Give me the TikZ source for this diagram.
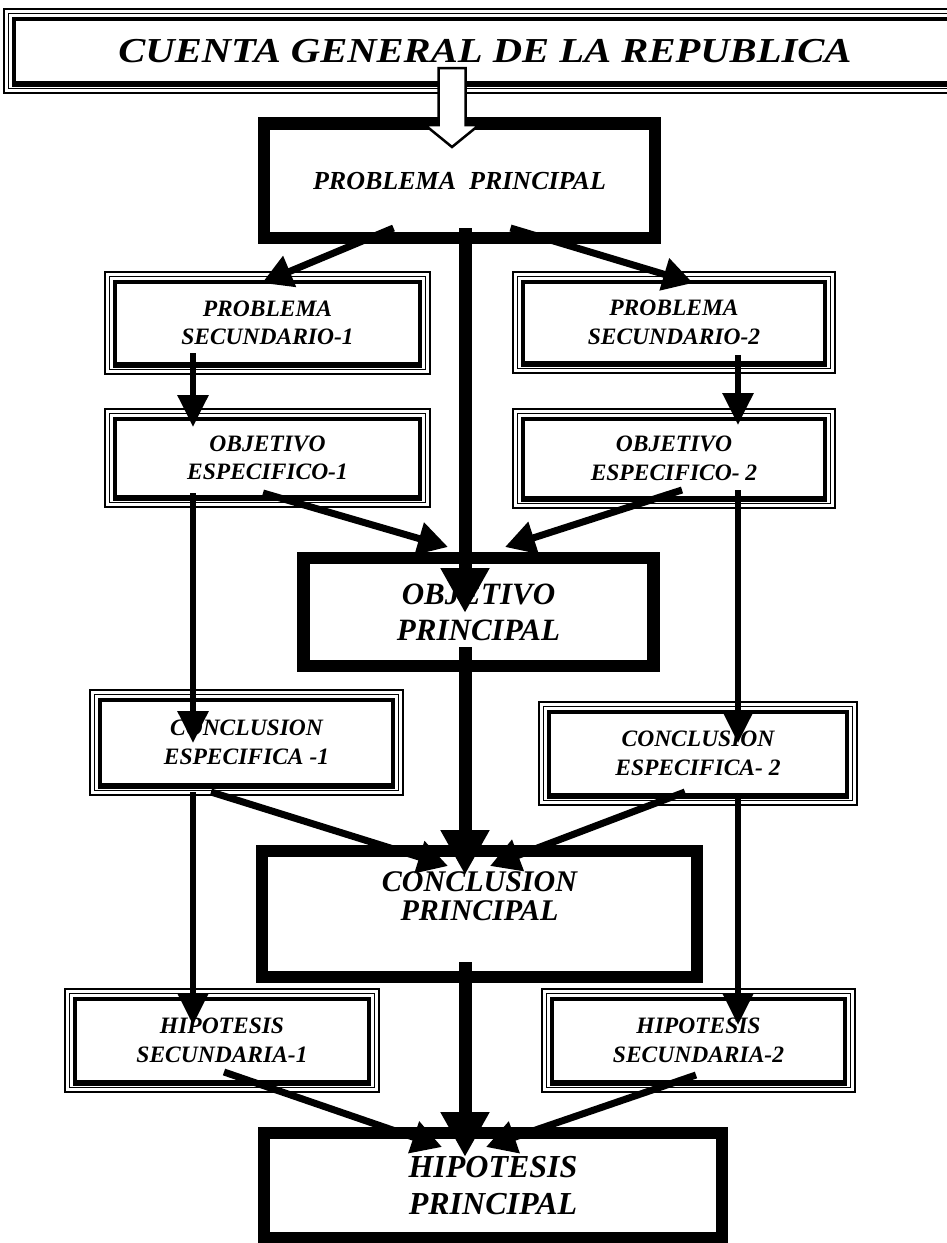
\documentclass[tikz,border=0pt]{standalone}
\usepackage{graphicx}
\usepackage{fontspec}
\setmainfont{Liberation Serif}
\usetikzlibrary{arrows.meta,calc}

\tikzset{
  mainbox/.style={draw, line width=12.5pt, rectangle, outer sep=0pt, inner sep=0pt, align=center},
  secbox/.style={draw, line width=3.5pt, rectangle, outer sep=0pt, inner sep=0pt, align=center,
    font=\fontsize{23.5}{28.5}\selectfont\bfseries\itshape},
  thinframe/.style={line width=1.3pt},
  bigarrow/.style={line width=13pt, -{Triangle[width=46pt,length=45pt]}},
  midarrow/.style={line width=7pt, -{Triangle[width=32pt,length=30pt]}},
  sidearrow/.style={line width=6pt, -{Triangle[width=30pt,length=32pt]}},
  hollowarrow/.style={line width=2.5pt, fill=white, line join=miter},
  plaintext/.style={align=center, inner sep=0pt}
}

\begin{document}
\begin{tikzpicture}[x=1pt,y=-1pt]
\useasboundingbox (0,0) rectangle (947,1243);
\fill[white] (0,0) rectangle (947,1243);

% ---------- boxes ----------
\node[secbox, minimum width=942pt, minimum height=64pt,
      font=\fontsize{35}{42}\selectfont\bfseries\itshape] (title) at (485,51)
      {\scalebox{1.16}[1]{CUENTA GENERAL DE LA REPUBLICA}};

\node[mainbox, minimum width=391pt, minimum height=114.5pt,
      font=\fontsize{26}{31}\selectfont\bfseries\itshape] (pp) at (459.5,180.75)
      {PROBLEMA\ \ PRINCIPAL};

\node[secbox, minimum width=305pt, minimum height=82pt] (ps1) at (267.5,323) {PROBLEMA\\SECUNDARIO-1};
\node[secbox, minimum width=302pt, minimum height=81pt] (ps2) at (674,322.5) {PROBLEMA\\SECUNDARIO-2};
\node[secbox, minimum width=305pt, minimum height=78pt] (oe1) at (267.5,458) {OBJETIVO\\ESPECIFICO-1};
\node[secbox, minimum width=302pt, minimum height=79pt] (oe2) at (674,458.5) {OBJETIVO\\ESPECIFICO- 2};

\node[mainbox, minimum width=350pt, minimum height=108pt,
      font=\fontsize{31}{36}\selectfont\bfseries\itshape] (op) at (478.5,612)
      {OBJETIVO\\PRINCIPAL};

\node[secbox, minimum width=293pt, minimum height=85pt] (ce1) at (246.5,742.5) {CONCLUSION\\ESPECIFICA -1};
\node[secbox, minimum width=298pt, minimum height=83pt] (ce2) at (698,753.5) {CONCLUSION\\ESPECIFICA- 2};

\node[mainbox, minimum width=435pt, minimum height=126pt] (cp) at (479.5,914) {};
\node[plaintext, font=\fontsize{30}{29}\selectfont\bfseries\itshape] (cptext)
      at ([yshift=17.5pt]cp.center) {CONCLUSION\\PRINCIPAL};

\node[secbox, minimum width=294pt, minimum height=83pt] (hs1) at (222,1040.5) {HIPOTESIS\\SECUNDARIA-1};
\node[secbox, minimum width=293pt, minimum height=83pt] (hs2) at (698.5,1040.5) {HIPOTESIS\\SECUNDARIA-2};

\node[mainbox, minimum width=458pt, minimum height=105pt,
      font=\fontsize{32}{37}\selectfont\bfseries\itshape] (hp) at (493,1185.5)
      {HIPOTESIS\\PRINCIPAL};

% ---------- triple frames of the secondary boxes ----------
\foreach \n in {title,ps1,ps2,oe1,oe2,ce1,ce2,hs1,hs2}{
  \draw[thinframe] ([shift={(-5.5pt,5.5pt)}]\n.north west) rectangle ([shift={(5.5pt,-5.5pt)}]\n.south east);
  \draw[thinframe] ([shift={(-10pt,10pt)}]\n.north west) rectangle ([shift={(10pt,-10pt)}]\n.south east);
  \draw[line width=3.5pt] ([shift={(-1.75pt,-1.75pt)}]\n.south west) -- ([shift={(1.75pt,-1.75pt)}]\n.south east);
}

% ---------- spine coordinates ----------
\coordinate (mx) at (465,0);
\coordinate (lx) at (193,0);
\coordinate (rx) at (738,0);

% ---------- main spine ----------
\draw[bigarrow] ($(pp.south -| mx)+(0,-10)$) -- ($(op.north -| mx)+(0,55)$);
\draw[bigarrow] ($(op.south -| mx)+(0,-19)$) -- ($(cp.north -| mx)+(0,24)$);
\draw[bigarrow] ($(cp.south -| mx)+(0,-15)$) -- ($(hp.north -| mx)+(0,24)$);

% ---------- diagonal arrows ----------
\draw[midarrow] ($(pp.south)+(-66,-10)$) -- ($(ps1.north)+(-5.5,1)$);
\draw[midarrow] ($(pp.south)+(51,-10)$) -- ($(ps2.north)+(19,1)$);
\draw[midarrow] ($(oe1.south)+(-4.5,-4)$) -- ($(op.north)+(-30.5,-11)$);
\draw[midarrow] ($(oe2.south)+(8,-8)$) -- ($(op.north)+(26.5,-11)$);
\draw[midarrow] ($(ce1.south)+(-35.5,7)$) -- ($(cp.north)+(-31.5,15)$);
\draw[midarrow] ($(ce2.south)+(-13,-3)$) -- ($(cp.north)+(10.5,15)$);
\draw[midarrow] ($(hs1.south)+(2,-10)$) -- ($(hp.north)+(-51,14)$);
\draw[midarrow] ($(hs2.south)+(-2.5,-7)$) -- ($(hp.north)+(-7,14)$);

% ---------- side spines ----------
\draw[sidearrow] ($(ps1.south -| lx)+(0,-11)$) -- ($(oe1.north -| lx)+(0,8)$);
\draw[sidearrow] ($(ps2.south -| rx)+(0,-8)$) -- ($(oe2.north -| rx)+(0,6)$);
\draw[sidearrow] ($(oe1.south -| lx)+(0,-4)$) -- ($(ce1.north -| lx)+(0,43)$);
\draw[sidearrow] ($(oe2.south -| rx)+(0,-8)$) -- ($(ce2.north -| rx)+(0,31)$);
\draw[sidearrow] ($(ce1.south -| lx)+(0,7)$) -- ($(hs1.north -| lx)+(0,26)$);
\draw[sidearrow] ($(ce2.south -| rx)+(0,0)$) -- ($(hs2.north -| rx)+(0,26)$);

% ---------- hollow arrow from title to problema principal ----------
\coordinate (hstart) at ($(title.south)+(-33,-15)$);
\coordinate (htip) at ($(pp.north)+(-7.5,23.5)$);
\draw[hollowarrow]
  ($(hstart)+(-13.5,0)$) -- ($(hstart)+(13.5,0)$) -- ($(htip)+(13.5,-22)$) --
  ($(htip)+(27,-22)$) -- (htip) -- ($(htip)+(-27,-22)$) -- ($(htip)+(-13.5,-22)$) -- cycle;
\end{tikzpicture}
\end{document}
